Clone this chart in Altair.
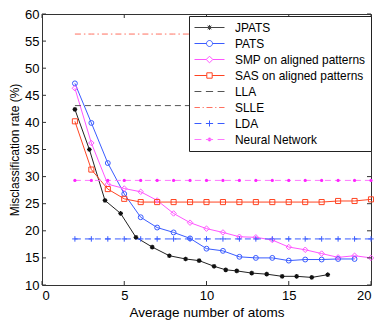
import altair as alt
import pandas as pd

series_names = ["JPATS", "PATS", "SMP on aligned patterns", "SAS on aligned patterns",
                "LLA", "SLLE", "LDA", "Neural Network"]

jpats_x = [2, 2.88, 3.83, 4.78, 5.71, 6.7, 7.74, 8.73, 9.55, 10.46, 11.17, 11.84,
           12.75, 13.66, 14.6, 15.48, 16.4, 17.37]
jpats_y = [42.4, 35.0, 25.6, 23.2, 18.8, 17.0, 15.4, 14.8, 14.5, 13.45, 12.8, 12.6,
           12.2, 12.0, 11.6, 11.6, 11.4, 11.9]

pats_x = [2, 3, 4, 5, 6, 7, 8, 9, 10, 11, 12, 13, 14, 15, 16, 17, 18, 19]
pats_y = [47.2, 39.9, 32.5, 26.8, 22.5, 20.6, 19.7, 18.6, 16.7, 16.3, 15.2, 15.0,
          15.0, 14.5, 14.7, 14.7, 14.8, 14.8]

smp_x = [2, 3, 4, 5, 6, 7, 8, 9, 10, 11, 12, 13, 14, 15, 16, 17, 18, 19, 20]
smp_y = [46.3, 36.2, 28.6, 27.8, 27.2, 25.6, 23.2, 21.5, 20.4, 19.7, 18.9, 18.8,
         18.3, 17.0, 16.5, 15.8, 15.1, 15.4, 15.0]

sas_x = [2, 3, 4, 5, 6, 7, 8, 9, 10, 11, 12, 13, 14, 15, 16, 17, 18, 19, 20]
sas_y = [40.2, 31.3, 27.7, 25.9, 25.3, 25.3, 25.3, 25.3, 25.3, 25.3, 25.3, 25.3,
         25.3, 25.3, 25.3, 25.3, 25.5, 25.5, 25.8]

baseline_x = [2, 3, 4, 5, 6, 7, 8, 9, 10, 11, 12, 13, 14, 15, 16, 17, 18, 19, 20]
lla_rate = 43.1
slle_rate = 56.3
lda_rate = 18.5
nn_rate = 29.3

x_ticks = [0, 5, 10, 15, 20]
y_ticks = [10, 15, 20, 25, 30, 35, 40, 45, 50, 55, 60]

line_colors = {"JPATS": "#222222", "PATS": "#3a5cff", "SMP on aligned patterns": "#ff55ff",
               "SAS on aligned patterns": "#ff4422", "LLA": "#555555", "SLLE": "#ff7060",
               "LDA": "#3a5cff", "Neural Network": "#ff77ff"}
line_dashes = {"LLA": [6, 4], "SLLE": [6, 3, 1.5, 3], "LDA": [6, 4], "Neural Network": [6, 4]}
marker_colors = {"JPATS": "#111111", "PATS": "#3a5cff", "SMP on aligned patterns": "#ff55ff",
                 "SAS on aligned patterns": "#ff4422", "LDA": "#3a5cff", "Neural Network": "#ff22ff"}

legend_paths = [
    "M-2.5,0H2.5M0,-0.42V0.42M-0.3,-0.3L0.3,0.3M-0.3,0.3L0.3,-0.3M0.25,0A0.25,0.25,0,1,1,-0.25,0A0.25,0.25,0,1,1,0.25,0Z",
    "M-2.5,0H-0.5M0.5,0H2.5M0.5,0A0.5,0.5,0,1,1,-0.5,0A0.5,0.5,0,1,1,0.5,0Z",
    "M-2.5,0H-0.55M0.55,0H2.5M0,-0.55L0.55,0L0,0.55L-0.55,0Z",
    "M-2.5,0H-0.45M0.45,0H2.5M-0.45,-0.45H0.45V0.45H-0.45Z",
    "M-2.5,0H-1.35M-0.6,0H0.6M1.35,0H2.5",
    "M-2.5,0H-1.6M-1.15,0H-0.95M-0.5,0H0.5M0.95,0H1.15M1.6,0H2.5",
    "M-2.5,0H-1.35M-0.6,0H0.6M1.35,0H2.5M0,-0.5V0.5",
    "M-2.5,0H-1.35M-0.6,0H0.6M1.35,0H2.5M0.27,0A0.27,0.27,0,1,1,-0.27,0A0.27,0.27,0,1,1,0.27,0Z",
]
legend_strokes = ["#444444", "#3a5cff", "#ff55ff", "#ff4422",
                  "#555555", "#ff7060", "#3a5cff", "#ff77ff"]
legend_fills = ["#111111", "transparent", "transparent", "transparent",
                "transparent", "transparent", "transparent", "#ff22ff"]

rows = []
for xv, yv in zip(jpats_x, jpats_y):
    rows.append({"x": xv, "y": yv, "series": "JPATS"})
for xv, yv in zip(pats_x, pats_y):
    rows.append({"x": xv, "y": yv, "series": "PATS"})
for xv, yv in zip(smp_x, smp_y):
    rows.append({"x": xv, "y": yv, "series": "SMP on aligned patterns"})
for xv, yv in zip(sas_x, sas_y):
    rows.append({"x": xv, "y": yv, "series": "SAS on aligned patterns"})
for name, val in [("LLA", lla_rate), ("SLLE", slle_rate), ("LDA", lda_rate), ("Neural Network", nn_rate)]:
    for xv in baseline_x:
        rows.append({"x": xv, "y": val, "series": name})
df = pd.DataFrame(rows)

W, H = 329, 271
FONT = "Liberation Sans"

x_enc = alt.X("x:Q", scale=alt.Scale(domain=[0, 20], nice=False),
              axis=alt.Axis(values=x_ticks, title="Average number of atoms", grid=False,
                            ticks=False, tickSize=0, domain=False, labelPadding=4,
                            titlePadding=3, labelFontSize=13, titleFontSize=13.5,
                            labelFont=FONT, titleFont=FONT, labelColor="black",
                            titleColor="black", titleFontWeight="normal"))
y_enc = alt.Y("y:Q", scale=alt.Scale(domain=[10, 60], nice=False),
              axis=alt.Axis(values=y_ticks, title="Misclassification rate (%)", grid=False,
                            ticks=False, tickSize=0, domain=False, labelPadding=3,
                            titlePadding=3, labelFontSize=13, titleFontSize=12,
                            labelFont=FONT, titleFont=FONT, labelColor="black",
                            titleColor="black", titleFontWeight="normal"))

base = alt.Chart(df)

line_layers = []
for name in series_names:
    kw = {"strokeWidth": 1, "color": line_colors[name]}
    if name in line_dashes:
        kw["strokeDash"] = line_dashes[name]
    line_layers.append(
        base.transform_filter(alt.datum.series == name).mark_line(**kw).encode(x=x_enc, y=y_enc))


def markers(name, **kw):
    return base.transform_filter(alt.datum.series == name).mark_point(
        opacity=1, color=marker_colors[name], **kw).encode(x=x_enc, y=y_enc)


pts = [
    markers("JPATS", shape="M-1,0H1M0,-1V1M-0.7,-0.7L0.7,0.7M-0.7,0.7L0.7,-0.7", size=22,
            filled=False, strokeWidth=1.2),
    markers("JPATS", shape="circle", size=7, filled=True),
    markers("PATS", shape="circle", size=24, filled=False, strokeWidth=1),
    markers("SMP on aligned patterns", shape="diamond", size=30, filled=False, strokeWidth=1),
    markers("SAS on aligned patterns", shape="square", size=26, filled=False, strokeWidth=1),
    markers("LDA", shape="M-1,0H1M0,-1V1", size=30, filled=False, strokeWidth=1),
    markers("Neural Network", shape="circle", size=10, filled=True),
]

tick_x = pd.DataFrame({"x": x_ticks})
tick_y = pd.DataFrame({"y": y_ticks})
tick_color = "#333333"
ticks = [
    alt.Chart(tick_x).mark_rule(color=tick_color, strokeWidth=1).encode(
        x=x_enc, y=alt.value(H), y2=alt.value(H - 4)),
    alt.Chart(tick_x).mark_rule(color=tick_color, strokeWidth=1).encode(
        x=x_enc, y=alt.value(0), y2=alt.value(4)),
    alt.Chart(tick_y).mark_rule(color=tick_color, strokeWidth=1).encode(
        y=y_enc, x=alt.value(0), x2=alt.value(4)),
    alt.Chart(tick_y).mark_rule(color=tick_color, strokeWidth=1).encode(
        y=y_enc, x=alt.value(W), x2=alt.value(W - 4)),
]

leg = alt.Legend(title=None, orient="none", legendX=147, legendY=2, fillColor="white",
                 strokeColor="#222222", padding=5, symbolSize=144, symbolOffset=9,
                 labelOffset=19, labelFont=FONT, labelFontSize=11.9, labelColor="black",
                 rowPadding=3, symbolStrokeWidth=1, cornerRadius=0)

# legend-only layer: its points sit outside the clipped plot area and are never seen
legend_df = pd.DataFrame({"series": series_names})
legend_layer = alt.Chart(legend_df).mark_point(
    filled=True, opacity=1, strokeWidth=1, clip=True).encode(
    x=alt.value(-500), y=alt.value(-500),
    shape=alt.Shape("series:N", scale=alt.Scale(domain=series_names, range=legend_paths), legend=leg),
    stroke=alt.Stroke("series:N", scale=alt.Scale(domain=series_names, range=legend_strokes), legend=leg),
    fill=alt.Fill("series:N", scale=alt.Scale(domain=series_names, range=legend_fills), legend=leg),
)

chart = alt.layer(*line_layers, *pts, *ticks, legend_layer).properties(
    width=W, height=H,
    padding={"left": 34, "top": 6, "right": 3, "bottom": 35},
    autosize=alt.AutoSizeParams(type="none"),
).configure_view(stroke="#333333", strokeWidth=1)

chart.save("out.html", embed_options={"renderer": "svg", "actions": False})
